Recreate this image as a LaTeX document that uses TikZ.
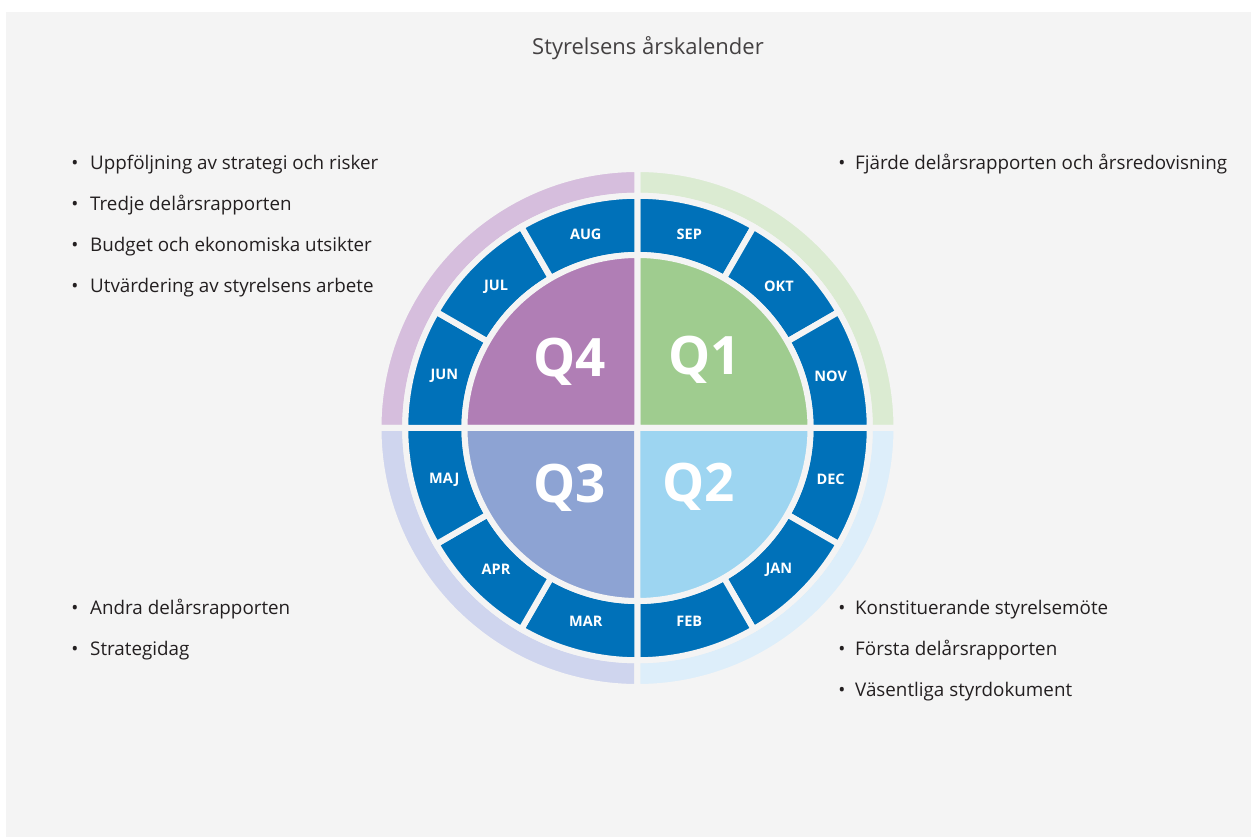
\documentclass[tikz,border=0pt]{standalone}
\usepackage{fontspec}
\setmainfont{Open Sans}
\usetikzlibrary{positioning}
\definecolor{bakgrund}{HTML}{F4F4F4}
\definecolor{manad}{HTML}{0071B9}
\definecolor{textfarg}{HTML}{231F20}
\definecolor{kvEtt}{HTML}{9FCC8F}
\definecolor{kvTva}{HTML}{9DD5F1}
\definecolor{kvTre}{HTML}{8DA3D3}
\definecolor{kvFyra}{HTML}{B07EB5}
\definecolor{ringEtt}{HTML}{DBEBD2}
\definecolor{ringTva}{HTML}{DDEEFA}
\definecolor{ringTre}{HTML}{CFD5EE}
\definecolor{ringFyra}{HTML}{D6BEDD}
\def\ringdel[#1](#2:#3:#4:#5){\draw[#1] (#2:#4) arc (#2:#3:#4) -- (#3:#5) arc (#3:#2:#5) -- cycle;}
\tikzset{
  glapp/.style={draw=bakgrund, line width=6pt},
  rubrik/.style={font=\fontsize{22}{26}\selectfont, text=textfarg!85, inner sep=0pt},
  punkt/.style={font=\fontsize{18.8}{22}\selectfont, text=textfarg, inner sep=0pt},
  manadtext/.style={font=\fontsize{14.5}{16}\selectfont\bfseries, text=white},
  kvartal/.style={font=\fontsize{53}{58}\selectfont\bfseries, text=white}
}
\begin{document}
\begin{tikzpicture}[x=1pt, y=1pt]
			%%%%% START %%%%%
			\useasboundingbox (-637.5, 428) rectangle (613.5, -409);
			\fill[white] (-637.5, 428) rectangle (613.5, -409);
			\fill[bakgrund] (-631.5, 416) rectangle (613.5, -409);
			
			\node[rubrik, anchor=base] (titel) at (10.5, 373.5) {Styrelsens årskalender};
			
			% yttre ring
			\ringdel[fill=ringEtt, glapp](0:90:232.25:259)
			\ringdel[fill=ringFyra, glapp](90:180:232.25:259)
			\ringdel[fill=ringTre, glapp](180:270:232.25:259)
			\ringdel[fill=ringTva, glapp](270:360:232.25:259)
			
			% manader
			\foreach \m [count=\i, evaluate=\i as \a using 90-30*\i] in {SEP,OKT,NOV,DEC,JAN,FEB,MAR,APR,MAJ,JUN,JUL,AUG}{
				\ringdel[fill=manad, glapp](\a:\a+30:173:232.25)
				\node[manadtext] (m\i) at (\a+15:200) {\m};
			}
			
			% kvartal
			\draw[fill=kvEtt, glapp] (0, 0) -- (0:173) arc (0:90:173) -- cycle;
			\draw[fill=kvFyra, glapp] (0, 0) -- (90:173) arc (90:180:173) -- cycle;
			\draw[fill=kvTre, glapp] (0, 0) -- (180:173) arc (180:270:173) -- cycle;
			\draw[fill=kvTva, glapp] (0, 0) -- (270:173) arc (270:360:173) -- cycle;
			
			\node[kvartal] (q1) at (67.5, 68) {Q1};
			\node[kvartal] (q2) at (61.5, -59) {Q2};
			\node[kvartal] (q3) at (-67.5, -60) {Q3};
			\node[kvartal] (q4) at (-67.5, 66) {Q4};
			
			% punktlistor
			\foreach \t [count=\i] in {Uppföljning av strategi och risker, Tredje delårsrapporten, Budget och ekonomiska utsikter, Utvärdering av styrelsens arbete}{
				\node[punkt, anchor=base west] (fyra\i) at (-547.5, 299-41*\i) {\t};
				\node[punkt, anchor=base] (fyrab\i) at ([xshift=-15pt]fyra\i.base west) {•};
			}
			\foreach \t [count=\i] in {Fjärde delårsrapporten och årsredovisning}{
				\node[punkt, anchor=base west] (ett\i) at (217.5, 299-41*\i) {\t};
				\node[punkt, anchor=base] (ettb\i) at ([xshift=-13pt]ett\i.base west) {•};
			}
			\foreach \t [count=\i] in {Andra delårsrapporten, Strategidag}{
				\node[punkt, anchor=base west] (tre\i) at (-547.5, -146-41*\i) {\t};
				\node[punkt, anchor=base] (treb\i) at ([xshift=-15pt]tre\i.base west) {•};
			}
			\foreach \t [count=\i] in {Konstituerande styrelsemöte, Första delårsrapporten, Väsentliga styrdokument}{
				\node[punkt, anchor=base west] (tva\i) at (217.5, -146-41*\i) {\t};
				\node[punkt, anchor=base] (tvab\i) at ([xshift=-13pt]tva\i.base west) {•};
			}
			%%%%% END %%%%%
\end{tikzpicture}
\end{document}
